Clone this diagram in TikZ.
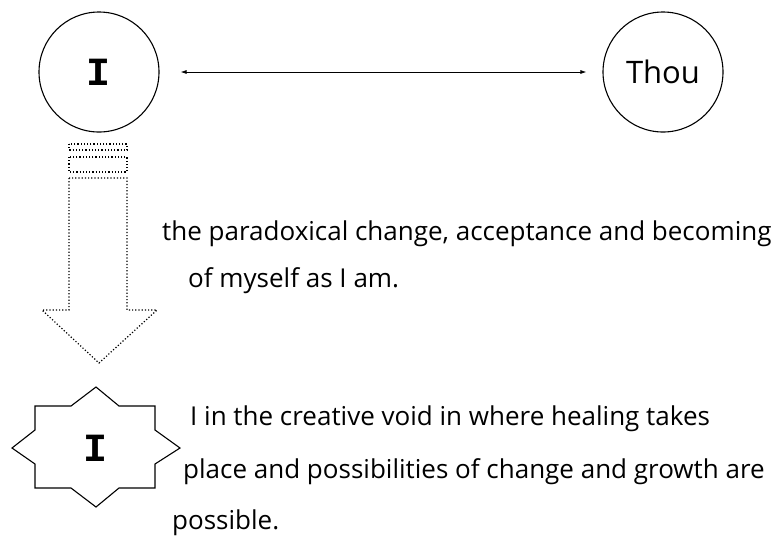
\documentclass[tikz,border=0pt]{standalone}
\usepackage{fontspec}
\setmainfont{Open Sans}
\newfontfamily\monofnt{Liberation Mono}
\usetikzlibrary{arrows.meta}
\tikzset{
  ring/.style={draw, circle, line width=1.1pt, minimum size=120pt, inner sep=0pt},
  txt/.style={anchor=base west, inner sep=0pt, font=\fontsize{26}{26}\selectfont},
  bigi/.style={font=\monofnt\bfseries\fontsize{40}{40}\selectfont, inner sep=0pt}
}
\begin{document}
\begin{tikzpicture}[x=1pt,y=-1pt]
\useasboundingbox (0,0) rectangle (778,542);

% the two circles
\node[ring] (me) at (99,72) {};
\node[bigi] (mel) at (99,72) {I};
\node[ring, font=\fontsize{31}{31}\selectfont] (thou) at (663,72) {Thou};
\draw[{Latex[length=6pt,width=4pt]}-{Latex[length=6pt,width=4pt]}, line width=.8pt,
      shorten <=21pt, shorten >=16pt] (me) -- (thou);

% dotted arrow
\draw[dotted, line width=1.2pt] (69,144) rectangle (127,150);
\draw[dotted, line width=1.2pt] (69,157) rectangle (127,172);
\draw[dotted, line width=1.2pt] (69,178) -- (69,310) -- (42,310) -- (99,363)
  -- (157,310) -- (127,310) -- (127,178) -- cycle;

% the star
\draw[line width=1.1pt] (96,387) -- (119,406) -- (155,406) -- (155,430) -- (180,448)
  -- (155,464) -- (155,488) -- (119,488) -- (96,507) -- (71,488) -- (35,488)
  -- (35,464) -- (12,448) -- (35,430) -- (35,406) -- (71,406) -- cycle;
\node[bigi] (voidi) at (96,448) {I};

% the texts
\foreach \x/\y/\t [count=\n] in {
  162/240/{the paradoxical change, acceptance and becoming},
  188/287/{of myself as I am.},
  190/425/{I in the creative void in where healing takes},
  183/478/{place and possibilities of change and growth are},
  172/529/{possible.}}
\node[txt] (line\n) at (\x,\y) {\t};
\end{tikzpicture}
\end{document}
